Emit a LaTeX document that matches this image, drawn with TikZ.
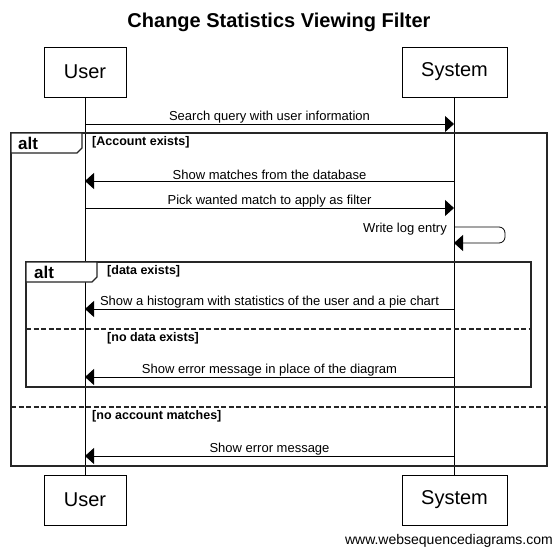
\documentclass[tikz,border=0pt]{standalone}
\usepackage{fontspec}
\setmainfont{Liberation Sans}
\usetikzlibrary{arrows.meta}

\begin{document}
\begin{tikzpicture}[x=1pt, y=-1pt,
	actor/.style={draw, line width=0.8pt, minimum height=50pt, inner sep=0pt, font=\fontsize{20}{24}\selectfont},
	msg/.style={line width=0.8pt, -{Triangle[length=9pt,width=16pt]}},
	msglabel/.style={above, inner sep=0.8pt, font=\fontsize{13}{15}\selectfont},
	frame/.style={line width=1.3pt, draw=black!85},
	tab/.style={frame, fill=white},
	sep/.style={line width=1.3pt, draw=black!85, dash pattern=on 5pt off 2.5pt},
	cond/.style={anchor=west, inner sep=0pt, font=\fontsize{12.5}{15}\bfseries\selectfont},
	alttext/.style={anchor=west, inner sep=0pt, font=\fontsize{17}{20}\bfseries\selectfont}]
	\useasboundingbox (0,0) rectangle (556,549);

	\node[font=\fontsize{20}{24}\bfseries\selectfont](title) at (279,22){Change Statistics Viewing Filter};

	% participants
	\node[actor, minimum width=82pt](usertop) at (85,72){User};
	\node[actor, minimum width=105pt](systop) at (454.5,72){System};
	\node[actor, minimum width=82pt](userbot) at (85,500){User};
	\node[actor, minimum width=105pt](sysbot) at (454.5,500){System};
	\draw [line width=0.8pt] (usertop) -- (userbot);
	\draw [line width=0.8pt] (systop) -- (sysbot);

	% points on the lifelines
	\foreach \y in {124,181,208,227,243,309,377,456}{
		\coordinate (u\y) at (85,\y);
		\coordinate (s\y) at (454,\y);
	}

	% outer alt
	\draw [frame] (11,133) rectangle (547,466);
	\draw [tab] (11,133) -- (82,133) -- (82,148) -- (77,153) -- (11,153) -- cycle;
	\node[alttext](alt1) at (18,143){alt};
	\node[cond](acc) at (92,142.5){[Account exists]};
	\draw [sep] (11,407) -- (547,407);
	\node[cond](noacc) at (92,416.5){[no account matches]};

	% inner alt
	\draw [frame] (26,262) rectangle (531,387);
	\draw [tab] (26,262) -- (97,262) -- (97,277) -- (92,282) -- (26,282) -- cycle;
	\node[alttext](alt2) at (34,272){alt};
	\node[cond](data) at (107,271.5){[data exists]};
	\draw [sep] (26,329) -- (531,329);
	\node[cond](nodata) at (107,338.5){[no data exists]};

	% messages
	\draw [msg] (u124) -- node[msglabel]{Search query with user information}(s124);
	\draw [msg] (s181) -- node[msglabel]{Show matches from the database}(u181);
	\draw [msg] (u208) -- node[msglabel]{Pick wanted match to apply as filter}(s208);
	\draw [msg, rounded corners=6pt] (s227) -- ++(51,0) -- ++(0,16) -- (s243);
	\node[anchor=east, inner sep=0pt, font=\fontsize{13}{15}\selectfont](log) at ([xshift=-7pt,yshift=-2pt]s227){Write log entry};
	\draw [msg] (s309) -- node[msglabel]{Show a histogram with statistics of the user and a pie chart}(u309);
	\draw [msg] (s377) -- node[msglabel]{Show error message in place of the diagram}(u377);
	\draw [msg] (s456) -- node[msglabel]{Show error message}(u456);

	\node[anchor=east, inner sep=0pt, font=\fontsize{14}{16}\selectfont](wsd) at (553,541){www.websequencediagrams.com};
\end{tikzpicture}
\end{document}
